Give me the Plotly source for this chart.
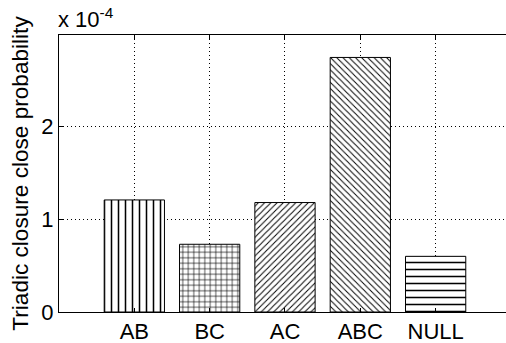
import plotly.graph_objects as go

categories = ["AB", "BC", "AC", "ABC", "NULL"]
values = [1.208, 0.73, 1.18, 2.744, 0.60]  # x 1e-4
patterns = ["|", "+", "/", "\\", "-"]
pattern_sizes = [7, 5.5, 4.4, 4.4, 7]
y_ticks = [0, 1, 2]
y_label = "Triadic closure close probability"
exponent_text = "x 10<sup>-4</sup>"

FONT = "Liberation Sans, Arial, Helvetica, sans-serif"
xpos = list(range(1, len(categories) + 1))

fig = go.Figure()
fig.add_trace(go.Bar(
    x=xpos,
    y=values,
    width=0.8,
    marker=dict(
        color="white",
        line=dict(color="black", width=1),
        pattern=dict(shape=patterns, size=pattern_sizes, solidity=0.22,
                     fgcolor="black", bgcolor="white", fillmode="replace"),
    ),
    showlegend=False,
))

fig.update_layout(
    width=506, height=343,
    margin=dict(l=59, r=0, t=35, b=31),
    paper_bgcolor="white", plot_bgcolor="white",
    font=dict(family=FONT, size=22, color="black"),
    bargap=0.2,
    xaxis=dict(
        range=[0, 5.934],
        tickvals=xpos, ticktext=categories,
        showgrid=True, gridcolor="black", gridwidth=1, griddash="1px,3px",
        showline=True, linecolor="black", linewidth=1, mirror="ticks",
        ticks="inside", ticklen=4, tickcolor="black",
        zeroline=False,
        tickfont=dict(size=22),
    ),
    yaxis=dict(
        range=[0, 2.986],
        tickvals=y_ticks, ticktext=[str(v) for v in y_ticks],
        showgrid=True, gridcolor="black", gridwidth=1, griddash="1px,3px",
        showline=True, linecolor="black", linewidth=1,
        ticks="inside", ticklen=4, tickcolor="black",
        zeroline=False,
        tickfont=dict(size=22),
        title=dict(text=y_label, font=dict(size=22.6), standoff=6),
    ),
    annotations=[dict(
        text=exponent_text, xref="paper", yref="paper",
        x=0, y=1, xanchor="left", yanchor="bottom", showarrow=False,
        xshift=-3, yshift=1,
        font=dict(size=22),
    )],
)

fig.write_html("out.html")
